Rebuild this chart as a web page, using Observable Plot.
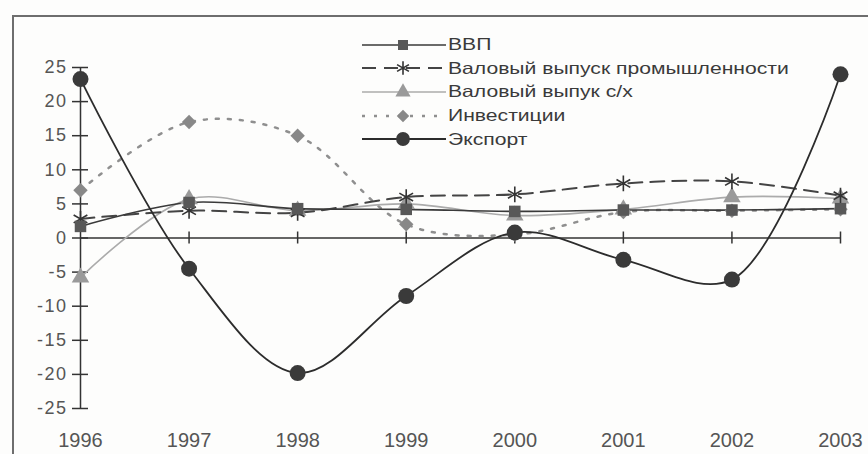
<!DOCTYPE html>
<html>
<head>
<meta charset="utf-8">
<script src="https://cdn.jsdelivr.net/npm/d3@7"></script>
<script src="https://cdn.jsdelivr.net/npm/@observablehq/plot@0.6"></script>
<style>
  html, body { margin: 0; padding: 0; background: #fdfdfc; }
  #wrap { position: relative; width: 868px; height: 454px; overflow: hidden; font-family: "Liberation Sans", Arial, sans-serif; }
  #border { position: absolute; left: 12px; top: 15px; width: 900px; height: 500px; border: 2px solid #6e6e6e; box-sizing: border-box; }
  #legend { position: absolute; left: 360px; top: 33px; }
  .row { display: flex; align-items: center; height: 23.6px; }
  .row svg { flex: none; }
  .row span { display: inline-block; font-size: 16.5px; color: #3a3a3a; margin-left: 2px; white-space: nowrap; transform: scaleX(1.28); transform-origin: left center; }
  .ylab text { letter-spacing: 1.5px; }
</style>
</head>
<body>
<div id="wrap">
  <div id="border"></div>
  <div id="chart"></div>
  <div id="legend"></div>
</div>
<script>
const years = [1996, 1997, 1998, 1999, 2000, 2001, 2002, 2003];
const seriesNames = ["ВВП", "Валовый выпуск промышленности", "Валовый выпук с/х", "Инвестиции", "Экспорт"];
const gdp      = [1.7, 5.2, 4.3, 4.2, 3.9, 4.1, 4.1, 4.3];
const industry = [2.8, 4.0, 3.7, 6.0, 6.4, 8.0, 8.3, 6.2];
const agri     = [-5.8, 5.7, 4.0, 5.0, 3.3, 4.2, 6.0, 5.8];
const invest   = [7.0, 17.0, 15.0, 2.0, 0.5, 3.8, 4.0, 4.2];
const exportV  = [23.3, -4.5, -19.8, -8.5, 0.8, -3.2, -6.1, 24.0];
const yTicks = [-25, -20, -15, -10, -5, 0, 5, 10, 15, 20, 25];

const styles = [
  {values: gdp,      stroke: "#3a3a3a", width: 1.6, dash: null,    symbol: "square",   fill: "#585858", r: 6.5, symStroke: "none"},
  {values: industry, stroke: "#444",    width: 2,   dash: "14,8",  symbol: "asterisk", fill: "none",    r: 7.5, symStroke: "#333"},
  {values: agri,     stroke: "#ababab", width: 1.6, dash: null,    symbol: "triangle", fill: "#9a9a9a", r: 6.5, symStroke: "none"},
  {values: invest,   stroke: "#8f8f8f", width: 2.5, dash: "3,9",   symbol: "diamond2", fill: "#888",    r: 6.5, symStroke: "none"},
  {values: exportV,  stroke: "#2c2c2c", width: 1.8, dash: null,    symbol: "circle",   fill: "#3a3a3a", r: 8,   symStroke: "none"}
];

const rows = [];
styles.forEach((s, k) => s.values.forEach((v, i) => rows.push({series: seriesNames[k], k, year: years[i], value: v})));

const drawOrder = [3, 2, 1, 0, 4];
const marks = [
  Plot.ruleY([0], {x1: years[0], x2: years[years.length - 1], stroke: "#333", strokeWidth: 1.5}),
  Plot.ruleX([years[0]], {y1: yTicks[0], y2: yTicks[yTicks.length - 1], stroke: "#333", strokeWidth: 1.5}),
  Plot.ruleY(yTicks, {x1: years[0], x2: years[0], insetLeft: -8, insetRight: -8, stroke: "#333", strokeWidth: 1.5}),
  Plot.ruleX(years.slice(1), {y1: 0, y2: 0, insetTop: -6, insetBottom: -6, stroke: "#333", strokeWidth: 1.5}),
  Plot.axisY({ticks: yTicks, label: null, tickSize: 0, tickPadding: 13, fontSize: 18, fill: "#555", className: "ylab", tickFormat: d => String(d)}),
  Plot.axisX({ticks: years, label: null, tickSize: 0, tickPadding: 24, fontSize: 20, fill: "#555", tickFormat: d => String(d)})
];
for (const k of drawOrder) {
  const s = styles[k];
  const d = rows.filter(r => r.k === k);
  marks.push(Plot.line(d, {x: "year", y: "value", curve: "catmull-rom", stroke: s.stroke, strokeWidth: s.width, strokeDasharray: s.dash}));
}
for (const k of drawOrder) {
  const s = styles[k];
  const d = rows.filter(r => r.k === k);
  marks.push(Plot.dot(d, {x: "year", y: "value", symbol: () => s.symbol, r: s.r, fill: s.fill, stroke: s.symStroke, strokeWidth: 1.6}));
}

const chart = Plot.plot({
  width: 868,
  height: 454,
  marginLeft: 80,
  marginRight: 28,
  marginTop: 67,
  marginBottom: 46,
  style: {background: "transparent", fontFamily: "Liberation Sans, Arial, sans-serif"},
  x: {domain: [years[0], years[years.length - 1]], axis: null},
  y: {domain: [yTicks[0], yTicks[yTicks.length - 1]], axis: null},
  symbol: {type: "identity"},
  marks
});
document.getElementById("chart").appendChild(chart);

// legend
const legend = document.getElementById("legend");
styles.forEach((s, k) => {
  const row = document.createElement("div");
  row.className = "row";
  const w = 86, h = 22;
  const svg = d3.create("svg").attr("width", w).attr("height", h);
  svg.append("line").attr("x1", 2).attr("x2", w).attr("y1", h / 2).attr("y2", h / 2)
    .attr("stroke", s.stroke).attr("stroke-width", s.width).attr("stroke-dasharray", s.dash);
  const sym = {square: d3.symbolSquare, asterisk: d3.symbolAsterisk, triangle: d3.symbolTriangle, diamond2: d3.symbolDiamond2, circle: d3.symbolCircle}[s.symbol];
  svg.append("path").attr("d", d3.symbol(sym, Math.PI * s.r * s.r * 0.75)()).attr("transform", `translate(${43},${h / 2})`)
    .attr("fill", s.fill).attr("stroke", s.symStroke).attr("stroke-width", 1.6);
  row.appendChild(svg.node());
  const span = document.createElement("span");
  span.textContent = seriesNames[k];
  row.appendChild(span);
  legend.appendChild(row);
});
</script>
</body>
</html>
